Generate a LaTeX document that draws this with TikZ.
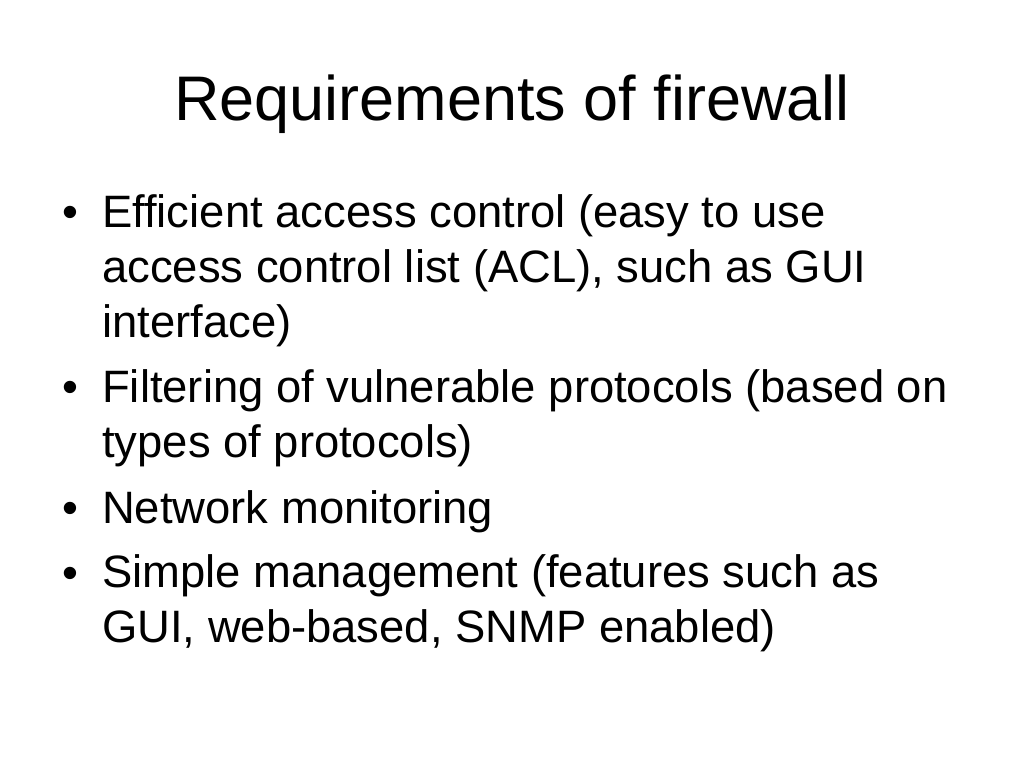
\documentclass[tikz,border=0pt]{standalone}
\usepackage{fontspec}
\setmainfont{Liberation Sans}
\usetikzlibrary{positioning}
\tikzstyle{titel}=[anchor=base, inner sep=0pt, font=\fontsize{63}{63}\selectfont]
\tikzstyle{punkt}=[anchor=base west, inner sep=0pt, align=left, font=\fontsize{45.4}{55}\selectfont]
\tikzstyle{kugel}=[anchor=base, inner sep=0pt, font=\fontsize{45.4}{55}\selectfont]

\begin{document}
\begin{tikzpicture}[x=1pt, y=-1pt]
			\useasboundingbox[fill=white] (0,0) rectangle (1024,768);
			\node[titel] (titel) at (512,120) {Requirements of firewall};
			% the base of a node with several lines is its last line
			\node[kugel] (k1) at (70,227) {\textbullet};
			\node[punkt] (p1) at (102,337) {Efficient access control (easy to use\\access control list (ACL), such as GUI\\interface)};
			\node[kugel] (k2) at (70,402) {\textbullet};
			\node[punkt] (p2) at (102,457) {Filtering of vulnerable protocols (based on\\types of protocols)};
			\node[kugel] (k3) at (70,523) {\textbullet};
			\node[punkt] (p3) at (102,523) {Network monitoring};
			\node[kugel] (k4) at (70,588) {\textbullet};
			\node[punkt] (p4) at (102,642) {Simple management (features such as\\GUI, web-based, SNMP enabled)};
		\end{tikzpicture}
\end{document}
